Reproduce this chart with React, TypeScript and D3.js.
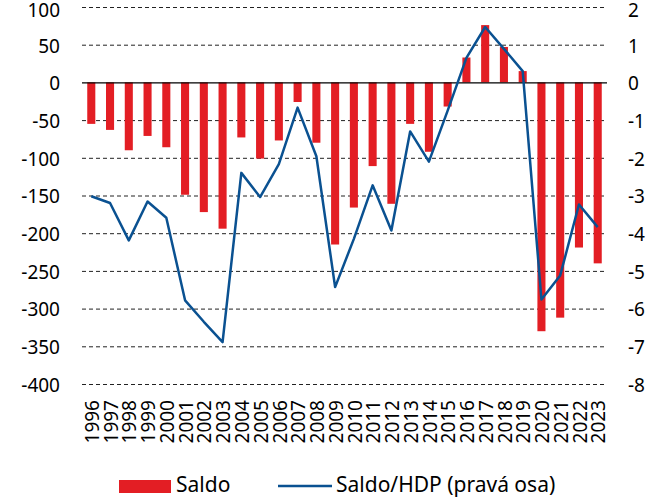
import React, { useEffect, useRef } from 'react';
import * as d3 from 'd3';

const years = ['1996','1997','1998','1999','2000','2001','2002','2003','2004','2005','2006','2007','2008','2009','2010','2011','2012','2013','2014','2015','2016','2017','2018','2019','2020','2021','2022','2023'];
const saldo = [-55,-63,-90,-71,-86,-149,-172,-194,-73,-101,-77,-26,-80,-215,-166,-111,-161,-55,-92,-32,33,76,47,15,-330,-312,-219,-240];
const saldoHdp = [-3.02,-3.2,-4.19,-3.16,-3.59,-5.78,-6.35,-6.89,-2.4,-3.04,-2.17,-0.67,-1.96,-5.43,-4.15,-2.73,-3.93,-1.3,-2.1,-0.75,0.65,1.47,0.89,0.3,-5.76,-5.12,-3.24,-3.84];
const leftTicks = [100,50,0,-50,-100,-150,-200,-250,-300,-350,-400];
const rightTicks = [2,1,0,-1,-2,-3,-4,-5,-6,-7,-8];

const FONT = '"Noto Sans", sans-serif';

const App = () => {
  const ref = useRef<SVGSVGElement>(null);

  useEffect(() => {
    const svg = d3.select(ref.current);
    svg.selectAll('*').remove();

    const x0 = 82, x1 = 607, yTop = 7, yBot = 384;

    const x = d3.scaleBand().domain(years).range([x0, x1]).paddingInner(0.57).paddingOuter(0.28);
    const yL = d3.scaleLinear().domain([-400, 100]).range([yBot, yTop]);
    const yR = d3.scaleLinear().domain([-8, 2]).range([yBot, yTop]);

    // keep the top label inside the picture
    const labelY = (y: number) => Math.max(y + 7.8, 17);

    // grid
    svg.append('g').selectAll('line')
      .data(leftTicks.filter(d => d !== 0))
      .enter().append('line')
      .attr('x1', x0).attr('x2', x1)
      .attr('y1', d => yL(d) + 0.5).attr('y2', d => yL(d) + 0.5)
      .attr('stroke', '#222').attr('stroke-width', 1)
      .attr('stroke-dasharray', '4,3');

    // bars
    svg.append('g').selectAll('rect')
      .data(years)
      .enter().append('rect')
      .attr('x', d => x(d)!)
      .attr('width', x.bandwidth())
      .attr('y', (d, i) => yL(Math.max(0, saldo[i])))
      .attr('height', (d, i) => Math.abs(yL(saldo[i]) - yL(0)))
      .attr('fill', '#e31e24');

    // zero line
    svg.append('line')
      .attr('x1', x0).attr('x2', x1)
      .attr('y1', yL(0) + 0.5).attr('y2', yL(0) + 0.5)
      .attr('stroke', '#000').attr('stroke-width', 1.2);

    // line
    const line = d3.line<number>()
      .x((d, i) => x(years[i])! + x.bandwidth() / 2)
      .y(d => yR(d));
    svg.append('path')
      .datum(saldoHdp)
      .attr('d', line)
      .attr('fill', 'none')
      .attr('stroke', '#0a5191')
      .attr('stroke-width', 2.5)
      .attr('stroke-linejoin', 'round');

    // left axis labels
    svg.append('g').selectAll('text')
      .data(leftTicks)
      .enter().append('text')
      .attr('x', 60).attr('y', d => labelY(yL(d)))
      .attr('text-anchor', 'end')
      .style('font-family', FONT).style('font-size', '19px').attr('fill', '#000')
      .text(d => d);

    // right axis labels
    svg.append('g').selectAll('text')
      .data(rightTicks)
      .enter().append('text')
      .attr('x', 628).attr('y', d => labelY(yR(d)))
      .attr('text-anchor', 'start')
      .style('font-family', FONT).style('font-size', '19px').attr('fill', '#000')
      .text(d => d);

    // x labels rotated
    svg.append('g').selectAll('text')
      .data(years)
      .enter().append('text')
      .attr('transform', d => `translate(${x(d)! + x.bandwidth() / 2 + 1},400) rotate(-90)`)
      .attr('dy', '0.35em')
      .attr('text-anchor', 'end')
      .style('font-family', FONT).style('font-size', '19px').attr('fill', '#000')
      .text(d => d);

    // legend
    const lg = svg.append('g');
    lg.append('rect').attr('x', 119).attr('y', 480).attr('width', 52).attr('height', 13).attr('fill', '#e31e24');
    lg.append('text').attr('x', 176).attr('y', 492)
      .style('font-family', FONT).style('font-size', '21px').text('Saldo');
    lg.append('line').attr('x1', 278).attr('x2', 332).attr('y1', 486).attr('y2', 486)
      .attr('stroke', '#0a5191').attr('stroke-width', 2.5);
    lg.append('text').attr('x', 336).attr('y', 492)
      .style('font-family', FONT).style('font-size', '21px').text('Saldo/HDP (pravá osa)');
  }, []);

  return (
    <svg ref={ref} width={661} height={497}
      style={{ position: 'absolute', left: 0, top: 0, background: '#fff' }} />
  );
};

export default App;
